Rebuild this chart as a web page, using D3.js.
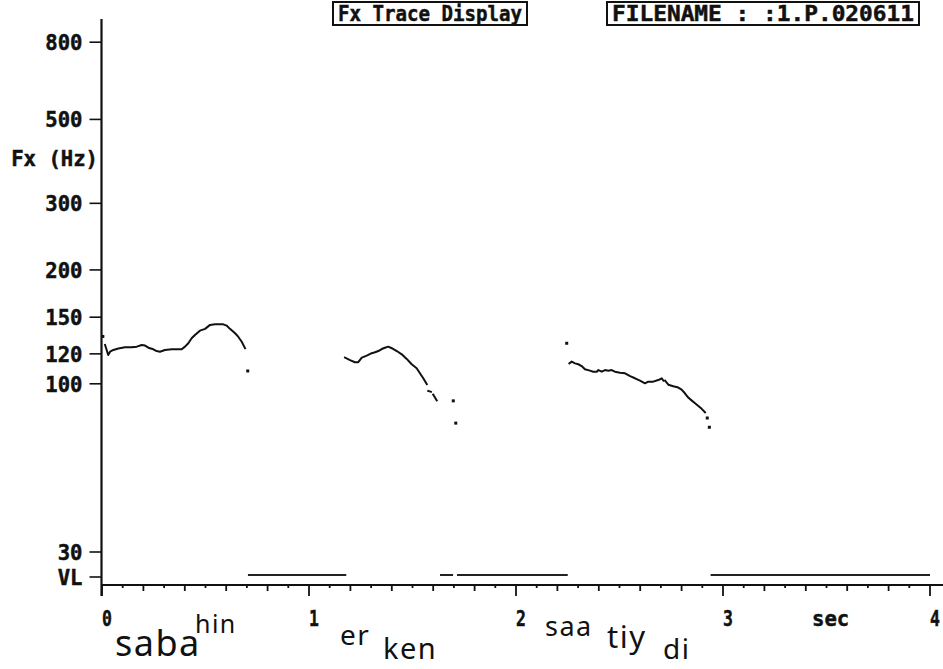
<!DOCTYPE html>
<html>
<head>
<meta charset="utf-8">
<script src="https://cdn.jsdelivr.net/npm/d3@7"></script>
<style>
  html, body { margin: 0; padding: 0; background: #fff; }
  svg { display: block; }
  .mono { font-family: "DejaVu Sans Mono", "Liberation Mono", monospace; font-weight: bold; fill: #111; stroke: #111; stroke-width: 0.5px; }
  .hand { font-family: "Noto Sans", "Open Sans", sans-serif; font-weight: 400; fill: #111; }
</style>
</head>
<body>
<script>
// Fx (fundamental frequency) trace, time in seconds, frequency in Hz
const yTickValues = [800, 500, 300, 200, 150, 120, 100, 30];
const xTickValues = [0, 1, 2, 3, 4];

// voiced stretches of the Fx contour: [time s, Fx Hz]
const trace1 = [
  [0.015, 126.3], [0.030, 118.8], [0.039, 121.2], [0.055, 122.5], [0.079, 123.6],
  [0.111, 124.5], [0.143, 124.5], [0.168, 125.0], [0.192, 126.3], [0.208, 125.8],
  [0.224, 124.2], [0.248, 123.0], [0.264, 121.7], [0.280, 121.2], [0.304, 122.5],
  [0.337, 123.0], [0.385, 123.0], [0.401, 125.0], [0.417, 127.6], [0.433, 131.5],
  [0.449, 134.2], [0.473, 137.8], [0.498, 139.3], [0.522, 142.7], [0.546, 143.2],
  [0.586, 143.2], [0.602, 142.1], [0.618, 139.3], [0.643, 135.6], [0.658, 132.8],
  [0.675, 128.8], [0.691, 123.8]
];
const trace2 = [
  [1.174, 116.9], [1.198, 115.2], [1.222, 113.7], [1.238, 113.7], [1.255, 116.9],
  [1.279, 118.3], [1.303, 120.1], [1.319, 120.8], [1.335, 121.7], [1.351, 123.2],
  [1.367, 124.2], [1.383, 125.0], [1.400, 123.8], [1.424, 121.7], [1.448, 119.3],
  [1.472, 116.0], [1.496, 112.3], [1.520, 109.6], [1.536, 106.3], [1.552, 103.1],
  [1.569, 99.4]
];
const trace2b = [[1.576, 94.7], [1.589, 94.1]];
const trace2c = [[1.600, 92.2], [1.617, 88.5]];
const trace3 = [
  [2.258, 112.9], [2.269, 114.1], [2.285, 112.9], [2.301, 112.3], [2.317, 111.1],
  [2.333, 108.9], [2.357, 108.0], [2.373, 107.3], [2.390, 107.3], [2.398, 108.4],
  [2.414, 107.3], [2.430, 108.4], [2.446, 108.0], [2.462, 108.4], [2.478, 107.3],
  [2.502, 106.7], [2.527, 106.3], [2.551, 104.5], [2.575, 103.1], [2.599, 101.6],
  [2.623, 100.0], [2.639, 101.0], [2.663, 101.0], [2.687, 102.0], [2.704, 103.1],
  [2.712, 101.6]
];
const trace3b = [
  [2.720, 101.6], [2.736, 99.0], [2.760, 97.9], [2.784, 97.0], [2.800, 95.6],
  [2.816, 93.1], [2.832, 90.3], [2.848, 88.5], [2.865, 86.7], [2.881, 85.0],
  [2.897, 83.3], [2.913, 81.3]
];
// isolated Fx estimates
const isolatedPoints = [
  [0.004, 133.0], [0.704, 107.8], [1.697, 88.2], [1.709, 75.2],
  [2.245, 127.6], [2.924, 78.0], [2.934, 73.0]
];
// voiceless stretches (seconds)
const voicelessSpans = [[0.705, 1.18], [1.633, 1.696], [1.715, 2.25], [2.94, 4.0]];

// transcription written beneath the time axis
const syllables = ["saba", "hin", "er", "ken", "saa", "tiy", "di"];
const syllableTimes = [0.063, 0.449, 1.15, 1.357, 2.14, 2.44, 2.71];

const W = 943, H = 669;
const svg = d3.select("body").append("svg").attr("width", W).attr("height", H);

const axisX = 101.5, axisY = 585;
const x = d3.scaleLinear().domain([0, 4]).range([102, 930]);
const y = d3.scaleLog().domain([30, 100, 800]).range([551.5, 383.3, 41.7]);
const vlY = axisY - 8;
const FS = 22, CW = 12.4;   // label font size and character advance

// title boxes
const titles = [
  { text: "Fx Trace Display", x0: 333, x1: 527 },
  { text: "FILENAME : :1.P.020611", x0: 607, x1: 919 }
];
titles.forEach(t => {
  svg.append("rect").attr("x", t.x0).attr("y", 2).attr("width", t.x1 - t.x0).attr("height", 23)
    .attr("fill", "none").attr("stroke", "#111").attr("stroke-width", 2);
  svg.append("text").attr("class", "mono").attr("x", (t.x0 + t.x1) / 2).attr("y", 21)
    .attr("text-anchor", "middle").attr("font-size", FS)
    .attr("textLength", t.x1 - t.x0 - 10).attr("lengthAdjust", "spacingAndGlyphs")
    .text(t.text);
});

// y axis
svg.append("line").attr("x1", axisX).attr("x2", axisX).attr("y1", 19).attr("y2", axisY + 11)
  .attr("stroke", "#111").attr("stroke-width", 2.2);

const yAxis = d3.axisLeft(y).tickValues(yTickValues).tickSize(12).tickSizeOuter(0)
  .tickFormat(d3.format("d")).tickPadding(7);
const gy = svg.append("g").attr("transform", `translate(${axisX},0)`).call(yAxis);
gy.select(".domain").remove();
gy.selectAll(".tick line").attr("stroke", "#111").attr("stroke-width", 1.6);
gy.selectAll(".tick text").attr("class", "mono").attr("font-size", FS).attr("dy", "0.36em")
  .attr("textLength", d => String(d).length * CW).attr("lengthAdjust", "spacingAndGlyphs");

// VL row tick and label
svg.append("line").attr("x1", axisX - 12).attr("x2", axisX).attr("y1", vlY).attr("y2", vlY)
  .attr("stroke", "#111").attr("stroke-width", 1.6);
svg.append("text").attr("class", "mono").attr("x", axisX - 19).attr("y", vlY).attr("dy", "0.36em")
  .attr("text-anchor", "end").attr("font-size", FS)
  .attr("textLength", 2 * CW).attr("lengthAdjust", "spacingAndGlyphs").text("VL");

svg.append("text").attr("class", "mono").attr("x", 98).attr("y", 158).attr("dy", "0.36em")
  .attr("text-anchor", "end").attr("font-size", FS)
  .attr("textLength", 7 * CW).attr("lengthAdjust", "spacingAndGlyphs").text("Fx (Hz)");

// x axis
svg.append("line").attr("x1", axisX).attr("x2", W).attr("y1", axisY).attr("y2", axisY)
  .attr("stroke", "#111").attr("stroke-width", 2.2);
const minorTicks = d3.range(0, 41).map(i => i / 10);
svg.append("g").selectAll("line").data(minorTicks).join("line")
  .attr("x1", d => x(d)).attr("x2", d => x(d))
  .attr("y1", axisY)
  .attr("y2", (d, i) => axisY + (i % 10 === 0 ? 11 : i % 2 === 0 ? 6 : 3))
  .attr("stroke", "#111").attr("stroke-width", 1.8);
svg.append("g").selectAll("text").data(xTickValues).join("text")
  .attr("class", "mono").attr("font-size", FS)
  .attr("x", d => x(d)).attr("y", 626)
  .attr("textLength", CW * 0.8).attr("lengthAdjust", "spacingAndGlyphs")
  .text(d => d);
svg.append("text").attr("class", "mono").attr("font-size", FS)
  .attr("x", x(3.52)).attr("y", 626).attr("text-anchor", "middle")
  .attr("textLength", 3 * CW).attr("lengthAdjust", "spacingAndGlyphs").text("sec");

// voiceless bars
svg.append("g").selectAll("line").data(voicelessSpans).join("line")
  .attr("x1", d => x(d[0])).attr("x2", d => x(d[1]))
  .attr("y1", vlY - 2).attr("y2", vlY - 2)
  .attr("stroke", "#222").attr("stroke-width", 2);

// Fx contour
const line = d3.line().x(d => x(d[0])).y(d => y(d[1])).curve(d3.curveLinear);
svg.append("g").selectAll("path")
  .data([trace1, trace2, trace2b, trace2c, trace3, trace3b]).join("path")
  .attr("d", line).attr("fill", "none").attr("stroke", "#111")
  .attr("stroke-width", 2).attr("stroke-linejoin", "round").attr("stroke-linecap", "square");
svg.append("g").selectAll("rect").data(isolatedPoints).join("rect")
  .attr("x", d => x(d[0]) - 1.5).attr("y", d => y(d[1]) - 1.5)
  .attr("width", 3).attr("height", 3).attr("fill", "#111");

// handwritten transcription
const sylStyle = [
  { base: 656, size: 36 }, { base: 633, size: 25 }, { base: 645, size: 28 },
  { base: 659, size: 29 }, { base: 636, size: 27 }, { base: 648, size: 31 }, { base: 659, size: 28 }
];
svg.append("g").selectAll("text").data(syllables).join("text")
  .attr("class", "hand")
  .attr("x", (d, i) => x(syllableTimes[i]))
  .attr("y", (d, i) => sylStyle[i].base)
  .attr("font-size", (d, i) => sylStyle[i].size)
  .attr("letter-spacing", 1.5)
  .text(d => d);
</script>
</body>
</html>
